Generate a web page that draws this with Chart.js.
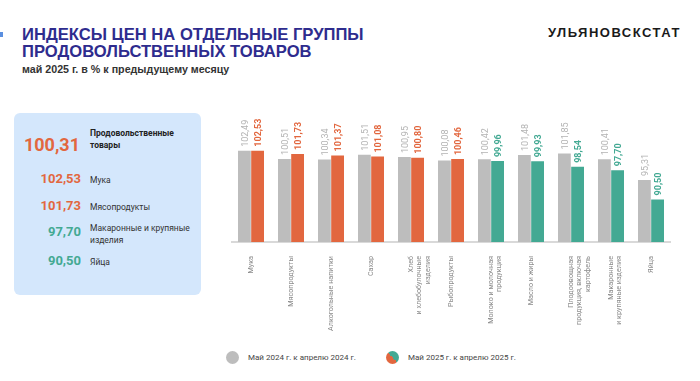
<!DOCTYPE html>
<html>
<head>
<meta charset="utf-8">
<script src="https://cdn.jsdelivr.net/npm/chart.js@4"></script>
<style>
  body { margin: 0; background: #fff; font-family: "Liberation Sans", Arial, sans-serif; }
  #page { position: relative; width: 700px; height: 381px; overflow: hidden; }
  .abs { position: absolute; }
  #mark { left: 0; top: 32px; width: 3px; height: 5px; background: #5b8fe0; }
  #title { left: 22px; top: 26px; font-size: 16.6px; font-weight: bold; color: #2e2c8e; line-height: 17px; }
  #sub { left: 22px; top: 63px; font-size: 10.7px; font-weight: bold; color: #333; }
  #brand { left: 548px; top: 25px; font-size: 13px; font-weight: bold; color: #1a1a1a; letter-spacing: 1.5px; }
  #panel { left: 14px; top: 113px; width: 187px; height: 182px; background: #d4e7fc; border-radius: 6px; }
  .num { position: absolute; width: 70px; text-align: right; font-family: Roboto, sans-serif; font-weight: bold; }
  .lbl { position: absolute; left: 90px; font-family: Roboto, sans-serif; font-size: 8.5px; color: #333; line-height: 12px; }
  #chartBox { left: 231px; top: 88px; width: 440px; height: 250px; }
  #legend { left: 226px; top: 351px; font-family: Roboto, sans-serif; font-size: 8px; color: #444; }
  .dot { display: inline-block; width: 13px; height: 13px; border-radius: 50%; vertical-align: middle; margin-right: 9px; }
</style>
</head>
<body>
<div id="page">
  <div id="mark" class="abs"></div>
  <div id="title" class="abs">ИНДЕКСЫ ЦЕН НА ОТДЕЛЬНЫЕ ГРУППЫ<br>ПРОДОВОЛЬСТВЕННЫХ ТОВАРОВ</div>
  <div id="sub" class="abs">май 2025 г. в % к предыдущему месяцу</div>
  <div id="brand" class="abs">УЛЬЯНОВСКСТАТ</div>
  <div id="panel" class="abs"></div>
  <div id="chartBox" class="abs"><canvas id="myChart"></canvas></div>
  <div id="legend" class="abs"></div>
</div>
<script>
// categories on the x axis
let categories = [
    "Мука",
    "Мясопродукты",
    "Алкогольные напитки",
    "Сахар",
    ["Хлеб", "и хлебобулочные", "изделия"],
    "Рыбопродукты",
    ["Молоко и молочная", "продукция"],
    "Масло и жиры",
    ["Плодоовощная", "продукция, включая", "картофель"],
    ["Макаронные", "и крупяные изделия"],
    "Яйца"
];
let values2024 = [102.49, 100.51, 100.34, 101.51, 100.95, 100.08, 100.42, 101.48, 101.85, 100.41, 95.31];
let values2025 = [102.53, 101.73, 101.37, 101.08, 100.80, 100.46, 99.96, 99.93, 98.54, 97.70, 90.50];

let seriesNames = ["Май 2024 г. к апрелю 2024 г.", "Май 2025 г. к апрелю 2025 г."];

// left panel
let panelNames = [["Продовольственные", "товары"], ["Мука"], ["Мясопродукты"], ["Макаронные и крупяные", "изделия"], ["Яйца"]];
let panelValues = [100.31, 102.53, 101.73, 97.70, 90.50];

const grey = '#bdbdbd';
const orange = '#e2673f';
const green = '#43a993';

function fmt(v) { return v.toFixed(2).replace('.', ','); }
function colorFor(v) { return v >= 100 ? orange : green; }

// build panel
let panel = document.getElementById('panel');
let rowsY = [16, 58, 85, 111, 140];
panelNames.forEach((name, i) => {
    let n = document.createElement('div');
    n.className = 'num';
    n.style.left = (i === 0 ? -4 : -3) + 'px';
    n.style.top = (rowsY[i] + (i === 0 ? 5 : 0)) + 'px';
    n.style.fontSize = (i === 0 ? 18 : 13) + 'px';
    n.style.color = colorFor(panelValues[i]);
    n.textContent = fmt(panelValues[i]);
    panel.appendChild(n);

    let l = document.createElement('div');
    l.className = 'lbl';
    l.style.left = '76px';
    l.style.top = (rowsY[i] + (name.length > 1 ? -2 : 3)) + 'px';
    if (i === 0) { l.style.fontWeight = 'bold'; l.style.color = '#222'; }
    l.innerHTML = name.join('<br>');
    panel.appendChild(l);
});

// legend
document.getElementById('legend').innerHTML =
    '<span class="dot" style="background:' + grey + '"></span>' + seriesNames[0] +
    '<span style="display:inline-block;width:30px"></span>' +
    '<span class="dot" style="background:linear-gradient(45deg,' + orange + ' 50%,' + green + ' 50%)"></span>' + seriesNames[1];

// value labels above bars, rotated
const barLabels = {
    id: 'barLabels',
    afterDatasetsDraw(chart) {
        const ctx = chart.ctx;
        chart.data.datasets.forEach((ds, di) => {
            chart.getDatasetMeta(di).data.forEach((bar, i) => {
                let v = ds.data[i];
                ctx.save();
                ctx.translate(bar.x + 1, bar.y - 4);
                ctx.rotate(-Math.PI / 2);
                ctx.textAlign = 'left';
                ctx.textBaseline = 'middle';
                if (di === 0) {
                    ctx.font = '9px Roboto, sans-serif';
                    ctx.fillStyle = '#b3b3b3';
                } else {
                    ctx.font = 'bold 9px Roboto, sans-serif';
                    ctx.fillStyle = colorFor(v);
                }
                ctx.fillText(fmt(v), 0, 0);
                ctx.restore();
            });
        });
    }
};

new Chart(document.getElementById('myChart'), {
    type: 'bar',
    data: {
        labels: categories,
        datasets: [{
            label: seriesNames[0],
            data: values2024,
            backgroundColor: grey,
            categoryPercentage: 0.66,
            barPercentage: 0.97
        }, {
            label: seriesNames[1],
            data: values2025,
            backgroundColor: values2025.map(colorFor),
            categoryPercentage: 0.66,
            barPercentage: 0.97
        }]
    },
    options: {
        responsive: true,
        maintainAspectRatio: false,
        animation: false,
        layout: { padding: 0 },
        plugins: { legend: { display: false }, tooltip: { enabled: false } },
        scales: {
            y: { display: false, min: 80, max: 118 },
            x: {
                grid: { display: false },
                border: { color: '#d9d9d9', width: 2 },
                afterFit: (s) => { s.height = 96; },
                ticks: {
                    minRotation: 90,
                    maxRotation: 90,
                    autoSkip: false,
                    padding: 6,
                    color: '#8c8c8c',
                    font: { family: 'Roboto', size: 7.2 }
                }
            }
        }
    },
    plugins: [barLabels]
});
</script>
</body>
</html>
